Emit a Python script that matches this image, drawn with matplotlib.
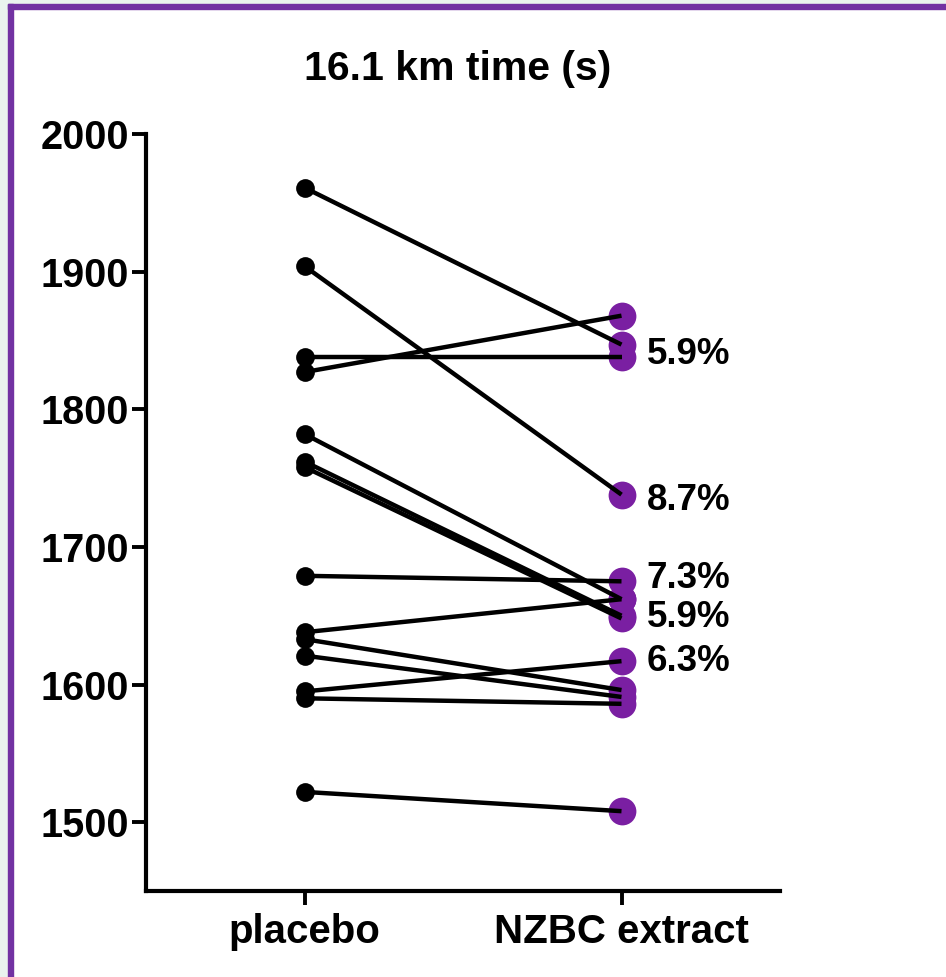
import matplotlib
matplotlib.use("Agg")
import matplotlib.pyplot as plt
from matplotlib.patches import Rectangle

plt.rcParams['font.family'] = ['Liberation Sans', 'DejaVu Sans']
plt.rcParams['font.weight'] = 'bold'

# data (seconds)
groups = ["placebo", "NZBC extract"]
placebo = [1961, 1904, 1838, 1827, 1782, 1762, 1758, 1679, 1638, 1633, 1621, 1595, 1590, 1522]
nzbc = [1847, 1738, 1838, 1868, 1662, 1650, 1648, 1675, 1662, 1596, 1591, 1617, 1586, 1508]
pct_labels = ["5.9%", "8.7%", "7.3%", "5.9%", "6.3%"]
pct_y = [1840, 1734, 1677, 1649, 1617]

PURPLE = "#7a1fa2"
FRAME = "#7232a2"
W, H = 946, 977

fig = plt.figure(figsize=(W / 100, H / 100), dpi=100)

def px_rect(x0, y0, x1, y1, color):
    fig.patches.append(Rectangle((x0 / W, 1 - y1 / H), (x1 - x0) / W, (y1 - y0) / H,
                                 transform=fig.transFigure, color=color, zorder=0))

# page frame
px_rect(0, 0, W, 4, "#eaf3ee")
px_rect(0, 0, 8, H, "#eaf3ee")
px_rect(8, 4, W, 9, FRAME)
px_rect(8, 4, 13, H, FRAME)

ax = fig.add_axes([146 / W, 1 - 891 / H, (780 - 146) / W, (891 - 134) / H])

for a, b in zip(placebo, nzbc):
    ax.plot([0, 1], [a, b], color="black", lw=3.2, zorder=3, solid_capstyle="butt")
ax.scatter([1] * len(nzbc), nzbc, s=20 ** 2, color=PURPLE, zorder=2, linewidths=0)
ax.scatter([0] * len(placebo), placebo, s=13.5 ** 2, color="black", zorder=4, linewidths=0)

for lab, y in zip(pct_labels, pct_y):
    ax.text(1.08, y, lab, fontsize=26.5, fontweight="bold", va="center", ha="left")

ax.set_xlim(-0.5, 1.5)
ax.set_ylim(1450, 2000)
ax.set_xticks([0, 1])
ax.set_xticklabels(groups, fontsize=29, fontweight="bold")
ax.set_yticks([1500, 1600, 1700, 1800, 1900, 2000])
ax.tick_params(axis="y", labelsize=28.5, length=10, width=2.8, pad=2)
ax.tick_params(axis="x", length=10, width=2.8, pad=6)
for lab in ax.get_yticklabels():
    lab.set_fontweight("bold")

for side in ["top", "right"]:
    ax.spines[side].set_visible(False)
for side in ["left", "bottom"]:
    ax.spines[side].set_linewidth(3)
ax.spines["left"].set_bounds(1450, 2000)

fig.text(458 / W, 1 - 69 / H, "16.1 km time (s)", fontsize=29.5, fontweight="bold",
         ha="center", va="center")

fig.savefig("out.png", dpi=100)
